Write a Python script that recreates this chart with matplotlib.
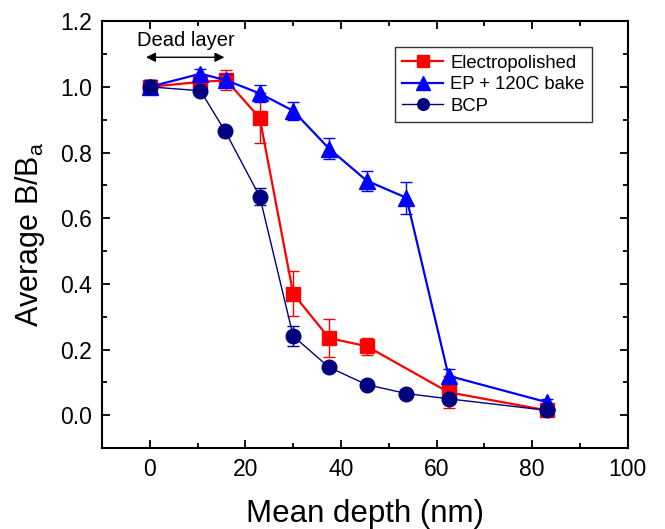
import matplotlib.pyplot as plt
from matplotlib.ticker import MultipleLocator

plt.rcParams['font.family'] = ['Liberation Sans', 'DejaVu Sans']

# Electropolished
ep_x = [0, 10.6, 16, 23, 30, 37.5, 45.4, 62.5, 83]
ep_y = [1.0, 1.015, 1.02, 0.905, 0.37, 0.235, 0.21, 0.07, 0.015]
ep_err = [0.02, 0.02, 0.03, 0.075, 0.068, 0.058, 0.026, 0.048, 0.01]

# EP + 120C bake
bake_x = [0, 10.6, 16, 23, 30, 37.5, 45.4, 53.7, 62.5, 83]
bake_y = [1.0, 1.04, 1.02, 0.98, 0.927, 0.812, 0.714, 0.662, 0.12, 0.04]
bake_err = [0.02, 0.015, 0.02, 0.025, 0.027, 0.032, 0.031, 0.048, 0.02, 0.01]

# BCP
bcp_x = [0, 10.6, 15.8, 23, 30, 37.5, 45.4, 53.7, 62.5, 83]
bcp_y = [1.0, 0.988, 0.864, 0.666, 0.241, 0.146, 0.093, 0.066, 0.05, 0.015]
bcp_err = [0.02, 0.01, 0.01, 0.027, 0.03, 0.01, 0.01, 0.01, 0.01, 0.01]

fig = plt.figure(figsize=(6.65, 5.29), dpi=100)
ax = fig.add_axes([0.1534, 0.153, 0.7906, 0.807])

c1 = ax.errorbar(ep_x, ep_y, yerr=ep_err, color='#ff0000', marker='s', ms=10,
                 lw=1.6, elinewidth=1, capsize=4, label='Electropolished', zorder=3)
c2 = ax.errorbar(bake_x, bake_y, yerr=bake_err, color='#0000ff', marker='^', ms=12,
                 lw=1.6, elinewidth=1, capsize=4, label='EP + 120C bake', zorder=4)
c3 = ax.errorbar(bcp_x, bcp_y, yerr=bcp_err, color='#000080', marker='o', ms=10.5,
                 lw=1, elinewidth=1, capsize=4, label='BCP', zorder=5)

# dead layer arrow
ax.annotate('', xy=(-0.8, 1.09), xytext=(15.6, 1.09),
            arrowprops=dict(arrowstyle='<|-|>', color='black', lw=1.0,
                            mutation_scale=14, shrinkA=0, shrinkB=0))
ax.text(7.6, 1.113, 'Dead layer', ha='center', va='bottom', fontsize=14.5)

ax.set_xlim(-10, 100)
ax.set_ylim(-0.1, 1.2)
ax.xaxis.set_major_locator(MultipleLocator(20))
ax.xaxis.set_minor_locator(MultipleLocator(10))
ax.yaxis.set_major_locator(MultipleLocator(0.2))
ax.yaxis.set_minor_locator(MultipleLocator(0.1))
ax.yaxis.set_major_formatter(plt.FuncFormatter(lambda v, p: f'{v:.1f}'))

ax.tick_params(which='both', direction='in', top=True, right=True, width=1.3, labelsize=16.5)
ax.tick_params(which='major', length=6, pad=7)
ax.tick_params(which='minor', length=3.5)
for s in ax.spines.values():
    s.set_linewidth(1.5)

ax.set_xlabel('Mean depth (nm)', fontsize=22.5, labelpad=13)
ax.set_ylabel(r'Average B/B$_\mathregular{a}$', fontsize=22, labelpad=10)

handles = [c.lines[0] for c in (c1, c2, c3)]
labels = ['Electropolished', 'EP + 120C bake', 'BCP']
leg = ax.legend(handles, labels, loc='upper right', bbox_to_anchor=(0.932, 0.939),
                borderaxespad=0, fontsize=13.3, frameon=True, fancybox=False,
                edgecolor='black', handlelength=2.2, borderpad=0.4,
                labelspacing=0.25, handletextpad=0.4, markerscale=0.8)
leg.get_frame().set_linewidth(1)

fig.savefig('out.png', dpi=100)
